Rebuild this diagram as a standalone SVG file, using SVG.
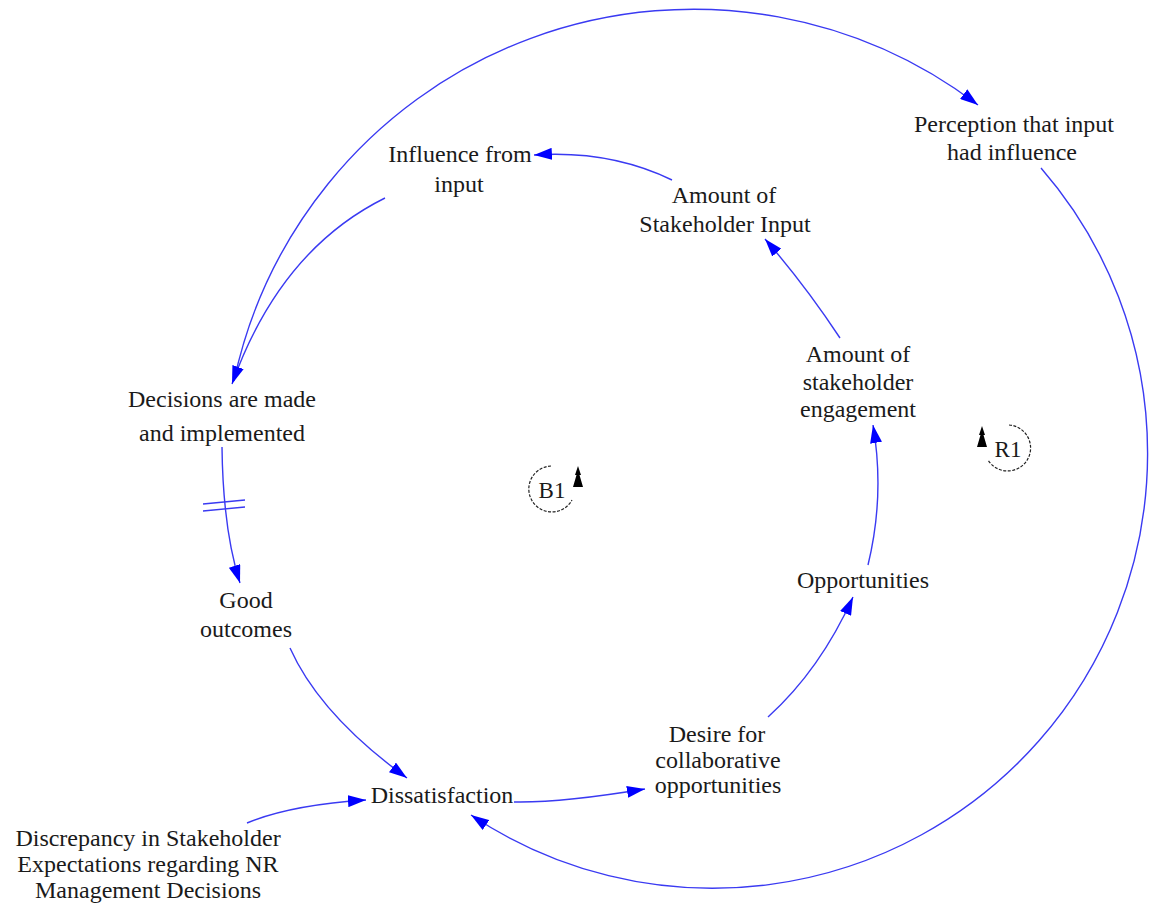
<svg xmlns="http://www.w3.org/2000/svg" width="1149" height="907" viewBox="0 0 1149 907">
<style>
text{font-family:'Liberation Serif','DejaVu Serif','Noto Serif',serif;font-size:24px;fill:#1a1a1a;text-anchor:middle}
.lk{fill:none;stroke:#3a3af2;stroke-width:1.4}
.loop{fill:none;stroke:#222;stroke-width:1.2;stroke-dasharray:3 1.5}
.lt{font-size:23px}
</style>
<defs>
<marker id="ah" viewBox="0 0 18 12" refX="18" refY="6" markerWidth="18" markerHeight="12" orient="auto" markerUnits="userSpaceOnUse">
<path d="M0,0 L18,6 L0,12 z" fill="#0000ff"/>
</marker>
</defs>
<rect width="1149" height="907" fill="#fff"/>
<g id="connectors">
<path class="lk" d="M234,381 A470,470 0 0 1 978,105" marker-end="url(#ah)"/>
<path class="lk" d="M1041,168 A435,435 0 0 1 471,815" marker-end="url(#ah)"/>
<path class="lk" d="M385,198 Q280,250 232,384" marker-end="url(#ah)"/>
<path class="lk" d="M672,180 Q610,150 534,155" marker-end="url(#ah)"/>
<path class="lk" d="M840,338 Q805,285 765,239" marker-end="url(#ah)"/>
<path class="lk" d="M868,565 Q885,495 873,425" marker-end="url(#ah)"/>
<path class="lk" d="M768,717 Q820,670 853,597" marker-end="url(#ah)"/>
<path class="lk" d="M514,802 Q560,803 645,789" marker-end="url(#ah)"/>
<path class="lk" d="M290,648 Q320,715 407,778" marker-end="url(#ah)"/>
<path class="lk" d="M247,823 Q290,805 366,800" marker-end="url(#ah)"/>
<path class="lk" d="M222,447 Q223,530 240,583" marker-end="url(#ah)"/>
<path class="lk" d="M203,504 L245,500 M203,511 L245,507"/>
</g>
<g id="node-influence"><text x="460" y="162">Influence from</text><text x="459" y="192">input</text></g>
<g id="node-amount-input"><text x="724" y="203">Amount of</text><text x="725" y="232">Stakeholder Input</text></g>
<g id="node-perception"><text x="1014" y="132">Perception that input</text><text x="1012" y="160">had influence</text></g>
<g id="node-engagement"><text x="858" y="362">Amount of</text><text x="858" y="390">stakeholder</text><text x="858" y="417">engagement</text></g>
<g id="node-decisions"><text x="222" y="407">Decisions are made</text><text x="222" y="441">and implemented</text></g>
<g id="node-good"><text x="246" y="608">Good</text><text x="246" y="637">outcomes</text></g>
<g id="node-opportunities"><text x="863" y="588">Opportunities</text></g>
<g id="node-desire"><text x="717" y="742">Desire for</text><text x="718" y="768">collaborative</text><text x="718" y="793">opportunities</text></g>
<g id="node-dissatisfaction"><text x="442" y="803">Dissatisfaction</text></g>
<g id="node-discrepancy"><text x="148" y="846">Discrepancy in Stakeholder</text><text x="148" y="872">Expectations regarding NR</text><text x="148" y="898">Management Decisions</text></g>
<g id="loop-B1">
<path class="loop" d="M551,466 A23,23 0 1 0 572,500"/>
<polygon points="578,466 575,475 576.5,475 573,487 583,487 579.5,475 581,475" fill="#000"/>
<text class="lt" x="552" y="498">B1</text>
</g>
<g id="loop-R1">
<path class="loop" d="M1009,425 A23,23 0 1 1 988,460"/>
<polygon points="982,426 979,435 980.5,435 977,447 987,447 983.5,435 985,435" fill="#000"/>
<text class="lt" x="1008" y="457">R1</text>
</g>
</svg>
